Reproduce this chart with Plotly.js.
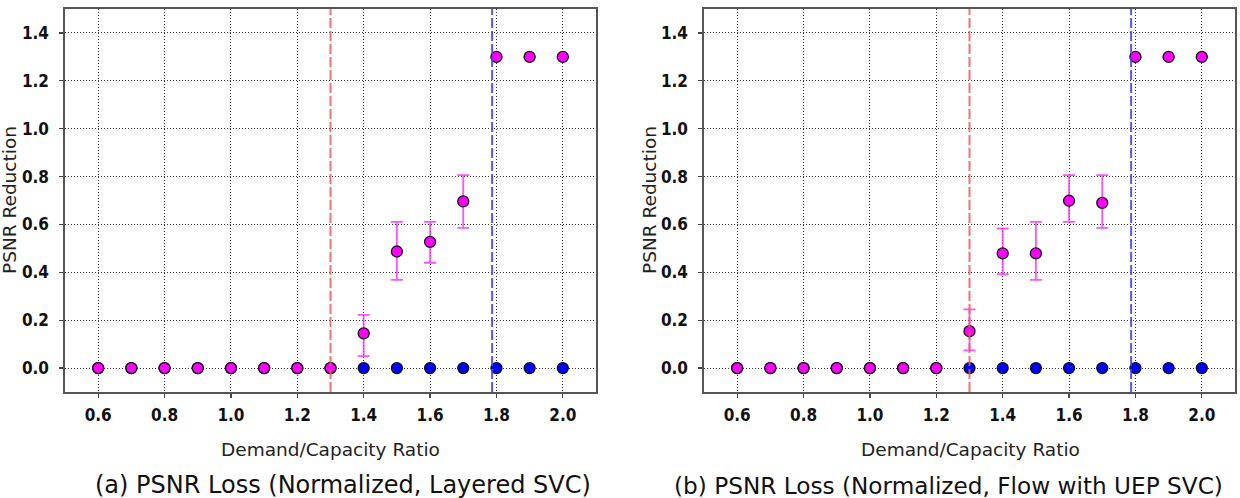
<!DOCTYPE html>
<html>
<head>
<meta charset="utf-8">
<script src="https://cdn.plot.ly/plotly-3.0.1.min.js"></script>
<style>
  html, body { margin: 0; padding: 0; background: #fff; }
  #chart { width: 1240px; height: 498px; }
</style>
</head>
<body>
<div id="chart"></div>
<script>
// Demand/capacity ratios on the x axis
const ratios = [0.6, 0.7, 0.8, 0.9, 1.0, 1.1, 1.2, 1.3, 1.4, 1.5, 1.6, 1.7, 1.8, 1.9, 2.0];

// Baseline (blue) PSNR reduction, both panels
const baseline = [0, 0, 0, 0, 0, 0, 0, 0, 0, 0, 0, 0, 0, 0, 0];

// (a) Layered SVC: mean PSNR reduction and error-bar bounds
const layeredMean  = [0, 0, 0, 0, 0, 0, 0, 0, 0.145, 0.487, 0.527, 0.696, 1.3, 1.3, 1.3];
const layeredUpper = [null, null, null, null, null, null, null, null, 0.222, 0.611, 0.611, 0.806, null, null, null];
const layeredLower = [null, null, null, null, null, null, null, null, 0.050, 0.368, 0.440, 0.586, null, null, null];

// (b) Flow with UEP SVC: mean PSNR reduction and error-bar bounds
const uepMean  = [0, 0, 0, 0, 0, 0, 0, 0.154, 0.479, 0.479, 0.699, 0.690, 1.3, 1.3, 1.3];
const uepUpper = [null, null, null, null, null, null, null, 0.245, 0.583, 0.611, 0.806, 0.806, null, null, null];
const uepLower = [null, null, null, null, null, null, null, 0.074, 0.392, 0.368, 0.611, 0.586, null, null, null];

// Threshold ratios marked with dashed vertical lines
const thresholdRatios = [1.3, 1.787];
const thresholdColors = ['rgba(240,90,90,0.85)', 'rgba(70,70,240,0.9)'];

// Tick labels
const xTicks = [0.6, 0.8, 1.0, 1.2, 1.4, 1.6, 1.8, 2.0];
const xTickText = ['0.6', '0.8', '1.0', '1.2', '1.4', '1.6', '1.8', '2.0'];
const yTicks = [0.0, 0.2, 0.4, 0.6, 0.8, 1.0, 1.2, 1.4];
const yTickText = ['0.0', '0.2', '0.4', '0.6', '0.8', '1.0', '1.2', '1.4'];

// Text
const captions = ['(a) PSNR Loss (Normalized, Layered SVC)', '(b) PSNR Loss (Normalized, Flow with UEP SVC)'];
const xTitle = 'Demand/Capacity Ratio';
const yTitle = 'PSNR Reduction';

const W = 1240, H = 498;
const px = v => v / W;
const py = v => 1 - v / H;

function plus(mean, upper) { return mean.map((m, i) => upper[i] == null ? null : upper[i] - m); }
function minus(mean, lower) { return mean.map((m, i) => lower[i] == null ? null : m - lower[i]); }

function panelTraces(mean, upper, lower, xa, ya) {
  return [
    {
      type: 'scatter', mode: 'markers', x: ratios, y: baseline, xaxis: xa, yaxis: ya,
      marker: { color: '#0000ff', size: 11, line: { color: '#111', width: 1.3 } },
      hoverinfo: 'x+y', showlegend: false, cliponaxis: false
    },
    {
      type: 'scatter', mode: 'markers', x: ratios, y: mean, xaxis: xa, yaxis: ya,
      marker: { color: '#ff00ff', size: 11, line: { color: '#111', width: 1.3 } },
      error_y: {
        type: 'data', symmetric: false,
        array: plus(mean, upper), arrayminus: minus(mean, lower),
        color: 'rgba(255,40,255,0.8)', thickness: 1.8, width: 6
      },
      hoverinfo: 'x+y', showlegend: false, cliponaxis: false
    }
  ];
}

const traces = [
  ...panelTraces(layeredMean, layeredUpper, layeredLower, 'x', 'y'),
  ...panelTraces(uepMean, uepUpper, uepLower, 'x2', 'y2')
];

const tickFont = { family: 'DejaVu Sans Condensed, DejaVu Sans', size: 17, color: '#111', weight: 'bold' };

const axisCommon = {
  tickmode: 'array',
  ticks: 'outside', ticklen: 4, tickwidth: 1.2, tickcolor: '#444',
  showline: true, mirror: true, linecolor: '#555', linewidth: 1.6,
  showgrid: true, gridcolor: '#333', griddash: '1px,2px', gridwidth: 1,
  zeroline: false, tickfont: tickFont
};

function xAxis(domain, anchor) {
  return Object.assign({}, axisCommon, {
    domain: domain, anchor: anchor, range: [0.5, 2.1],
    tickvals: xTicks, ticktext: xTickText, ticklabelstandoff: 3
  });
}
function yAxis(anchor) {
  return Object.assign({}, axisCommon, {
    domain: [py(392), py(9)], anchor: anchor, range: [-0.1, 1.5],
    tickvals: yTicks, ticktext: yTickText, ticklabelstandoff: 7
  });
}

const shapes = [];
['x', 'x2'].forEach(xr => {
  thresholdRatios.forEach((t, i) => {
    shapes.push({
      type: 'line', xref: xr, yref: (xr === 'x' ? 'y' : 'y2') + ' domain',
      x0: t, x1: t, y0: 0, y1: 1, layer: 'above',
      line: { color: thresholdColors[i], width: 2, dash: '10px,3px' }
    });
  });
});

const textFont = { family: 'DejaVu Sans', color: '#222' };
const annotations = [
  { text: xTitle, xref: 'paper', yref: 'paper', x: px(331), y: py(449), xanchor: 'center', yanchor: 'middle', showarrow: false, font: { ...textFont, size: 18.5 } },
  { text: xTitle, xref: 'paper', yref: 'paper', x: px(970), y: py(449), xanchor: 'center', yanchor: 'middle', showarrow: false, font: { ...textFont, size: 18.5 } },
  { text: yTitle, xref: 'paper', yref: 'paper', x: px(9), y: py(200), xanchor: 'center', yanchor: 'middle', textangle: -90, showarrow: false, font: { ...textFont, size: 18.5 } },
  { text: yTitle, xref: 'paper', yref: 'paper', x: px(649), y: py(200), xanchor: 'center', yanchor: 'middle', textangle: -90, showarrow: false, font: { ...textFont, size: 18.5 } },
  { text: captions[0], xref: 'paper', yref: 'paper', x: px(343), y: py(485), xanchor: 'center', yanchor: 'middle', showarrow: false, font: { ...textFont, size: 24, color: '#111' } },
  { text: captions[1], xref: 'paper', yref: 'paper', x: px(672), y: py(485), xanchor: 'left', yanchor: 'middle', showarrow: false, font: { ...textFont, size: 23.2, color: '#111' } }
];

const layout = {
  width: W, height: H,
  margin: { l: 0, r: 0, t: 0, b: 0 },
  paper_bgcolor: '#fff', plot_bgcolor: '#fff',
  font: { family: 'DejaVu Sans', color: '#111' },
  showlegend: false,
  xaxis: xAxis([px(65), px(596)], 'y'),
  yaxis: yAxis('x'),
  xaxis2: xAxis([px(704), px(1235)], 'y2'),
  yaxis2: yAxis('x2'),
  shapes: shapes,
  annotations: annotations
};

Plotly.newPlot('chart', traces, layout, { displayModeBar: false, staticPlot: true });
</script>
</body>
</html>
